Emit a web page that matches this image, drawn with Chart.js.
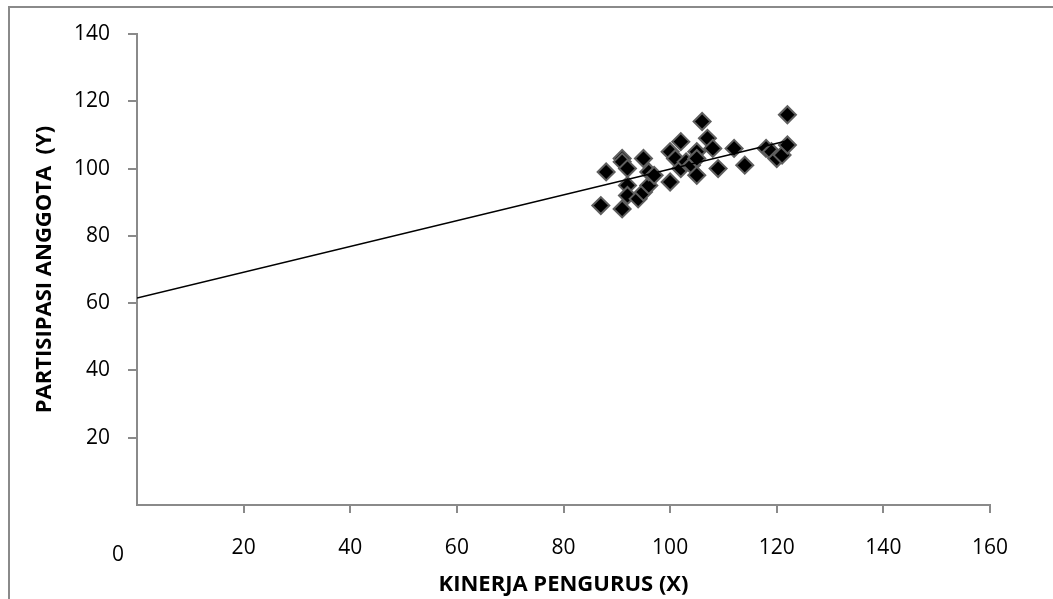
<!DOCTYPE html>
<html>
<head>
<meta charset="utf-8">
<script src="https://cdn.jsdelivr.net/npm/chart.js@4"></script>
<style>
  html, body { margin: 0; padding: 0; background: #fff; }
  #wrap { position: relative; width: 1053px; height: 599px; overflow: hidden; }
  #frame { position: absolute; left: 8px; top: 6px; width: 1100px; height: 700px;
           border-left: 2px solid #8a8a8a; border-top: 2px solid #8a8a8a; }
  canvas { position: absolute; left: 0; top: 0; }
</style>
</head>
<body>
<div id="wrap">
  <div id="frame"></div>
  <canvas id="scatter" width="1053" height="599"></canvas>
</div>
<script>
// ── Data ──
const kinerjaX = [87, 88, 91, 91, 91, 92, 92, 92, 94, 95, 95, 96, 96, 97, 100, 100, 101, 102, 102, 103,
                  104, 105, 105, 105, 106, 107, 108, 109, 112, 114, 118, 119, 120, 121, 122, 122];
const partisipasiY = [89, 99, 88, 103, 102, 100, 95, 92, 91, 103, 93, 95, 99, 98, 96, 105, 103, 100, 108, 102,
                      101, 105, 103, 98, 114, 109, 106, 100, 106, 101, 106, 105, 103, 104, 107, 116];
const trendX = [0, 122];
const trendY = [61.5, 108.3];
const xTicks = [0, 20, 40, 60, 80, 100, 120, 140, 160];
const yTicks = [20, 40, 60, 80, 100, 120, 140];

const AXIS_GREY = '#8a8a8a';
const FONT = 'Open Sans';

// "0" of the x axis sits low and left of the origin in the original
const zeroLabel = {
  id: 'zeroLabel',
  afterDraw(chart) {
    const xs = chart.scales.x;
    const c = chart.ctx;
    c.save();
    c.font = '21px "' + FONT + '"';
    c.fillStyle = '#000';
    c.textAlign = 'center';
    c.textBaseline = 'middle';
    c.fillText('0', xs.getPixelForValue(0) - 19, xs.top + 50);
    c.restore();
  }
};

new Chart(document.getElementById('scatter').getContext('2d'), {
  type: 'scatter',
  data: {
    datasets: [
      {
        data: kinerjaX.map((x, i) => ({ x, y: partisipasiY[i] })),
        pointStyle: 'rectRot',
        pointRadius: 8.5,
        backgroundColor: '#000',
        borderColor: '#5f5f5f',
        borderWidth: 2,
        order: 2,
      },
      {
        type: 'line',
        data: trendX.map((x, i) => ({ x, y: trendY[i] })),
        borderColor: '#000', borderWidth: 1.5,
        pointRadius: 0, fill: false,
        order: 1,
      },
    ],
  },
  options: {
    responsive: false,
    animation: false,
    events: [],
    layout: { padding: { top: 34, right: 63, left: 0, bottom: 0 } },
    plugins: { legend: { display: false }, tooltip: { enabled: false } },
    scales: {
      x: {
        type: 'linear', min: 0, max: 160,
        afterFit: s => { s.height = 94; },
        afterBuildTicks: s => { s.ticks = xTicks.filter(v => v !== 0).map(v => ({ value: v })); },
        border: { color: AXIS_GREY, width: 2 },
        grid: { drawOnChartArea: false, color: AXIS_GREY, lineWidth: 2, tickLength: 8 },
        ticks: { color: '#000', padding: 22, maxRotation: 0, font: { family: FONT, size: 21 } },
        title: {
          display: true, text: 'KINERJA PENGURUS (X)', color: '#000',
          font: { family: FONT, size: 22, weight: 'bold' }, padding: { top: 0, bottom: 1 },
        },
      },
      y: {
        type: 'linear', min: 0, max: 140,
        afterFit: s => { s.width = 137; },
        afterBuildTicks: s => { s.ticks = yTicks.map(v => ({ value: v })); },
        border: { color: AXIS_GREY, width: 2 },
        grid: { drawOnChartArea: false, color: AXIS_GREY, lineWidth: 2, tickLength: 9 },
        ticks: { color: '#000', padding: 18, font: { family: FONT, size: 21 } },
        title: {
          display: true, text: 'PARTISIPASI ANGGOTA  (Y)', color: '#000',
          font: { family: FONT, size: 22, weight: 'bold' }, padding: { top: 32, bottom: 0 },
        },
      },
    },
  },
  plugins: [zeroLabel],
});
</script>
</body>
</html>
